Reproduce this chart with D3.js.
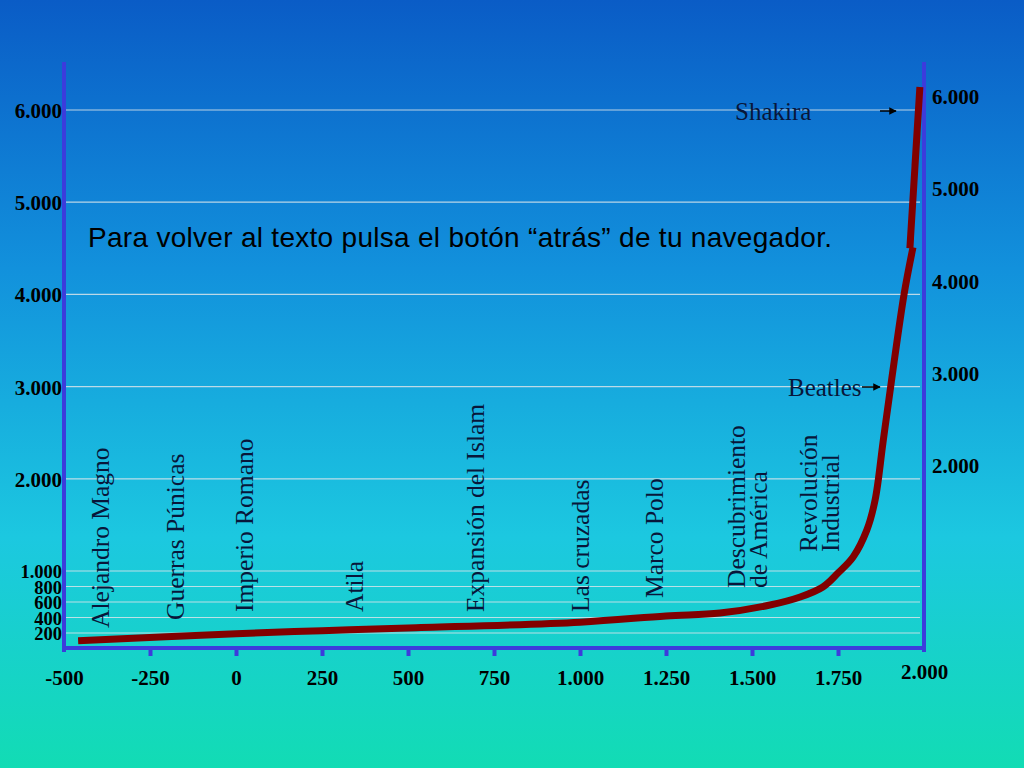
<!DOCTYPE html>
<html><head><meta charset="utf-8">
<script src="https://cdn.jsdelivr.net/npm/d3@7"></script>
<style>body{margin:0;}svg{display:block;}</style>
</head><body>
<script>
const years = [-459, 0, 250, 500, 1000, 1250, 1407, 1552, 1640, 1706, 1750, 1794, 1834, 1858, 1881, 1905, 1942, 1968];
const population = [100, 190, 230, 265, 340, 420, 458, 561, 665, 794, 974, 1152, 1446, 1772, 2400, 3050, 4000, 4510];
const jumpYears = [1959, 1988];
const jumpPopulation = [4500, 6250];
const leftTicks = [200, 400, 600, 800, 1000, 2000, 3000, 4000, 5000, 6000];
const rightTicks = [2000, 3000, 4000, 5000, 6000];
const xTicks = [-500, -250, 0, 250, 500, 750, 1000, 1250, 1500, 1750, 2000];
const events = [
  {lines:["Alejandro Magno"], year:-370, base:628},
  {lines:["Guerras Púnicas"], year:-150, base:620},
  {lines:["Imperio Romano"], year:50, base:612},
  {lines:["Atila"], year:370, base:612},
  {lines:["Expansión del Islam"], year:720, base:612},
  {lines:["Las cruzadas"], year:1025, base:612},
  {lines:["Marco Polo"], year:1240, base:598},
  {lines:["Descubrimiento","de América"], year:1480, base:588},
  {lines:["Revolución","Industrial"], year:1690, base:552}
];
const fmt = v => d3.format(",")(v).replace(/,/g, ".").replace("−","-");

const W=1024,H=768;
const svg=d3.select("body").append("svg").attr("width",W).attr("height",H);
const defs=svg.append("defs");
const g=defs.append("linearGradient").attr("id","bg").attr("x1",0).attr("y1",0).attr("x2",0).attr("y2",1);
[[0,"#0a5cc6"],[0.35,"#1291dc"],[0.7,"#1cc8e0"],[1,"#12dcb4"]].forEach(([o,c])=>g.append("stop").attr("offset",o).attr("stop-color",c));
svg.append("rect").attr("width",W).attr("height",H).attr("fill","url(#bg)");
const ar=defs.append("marker").attr("id","arr").attr("viewBox","0 0 10 10").attr("refX",9).attr("refY",5)
  .attr("markerWidth",5).attr("markerHeight",5).attr("orient","auto");
ar.append("path").attr("d","M0,0L10,5L0,10z").attr("fill","#000");

const x=d3.scaleLinear().domain([-500,2000]).range([64,924]);
const y=d3.scaleLinear().domain([0,1000,6000]).range([648.5,571,110]);
const yR=d3.scaleLinear().domain([2000,6000]).range([466,97]);

svg.append("g").selectAll("line").data(leftTicks).join("line")
  .attr("x1",64).attr("x2",920).attr("y1",d=>y(d)).attr("y2",d=>y(d))
  .attr("stroke","#d8e4ea").attr("stroke-opacity",0.85).attr("stroke-width",1.2);

const axisColor="#3c3cdc";
const tickFont = sel => sel.selectAll("text").attr("font-family","Liberation Serif").attr("font-weight","bold").attr("font-size",21).attr("fill","#000");
const la=svg.append("g").attr("transform","translate(64,0)")
  .call(d3.axisLeft(y).tickValues(leftTicks).tickFormat(fmt).tickSize(0).tickPadding(2));
la.select(".domain").remove();
la.append("line").attr("x1",0).attr("x2",0).attr("y1",62).attr("y2",652).attr("stroke",axisColor).attr("stroke-width",4);
tickFont(la);
la.selectAll(".tick text").attr("dy","0.36em");
la.selectAll(".tick").filter(d=>d<=1000).select("text").attr("font-size",18.5);

const ra=svg.append("g").attr("transform","translate(924,0)")
  .call(d3.axisRight(yR).tickValues(rightTicks).tickFormat(fmt).tickSize(0).tickPadding(8));
ra.select(".domain").remove();
ra.append("line").attr("x1",0).attr("x2",0).attr("y1",62).attr("y2",652).attr("stroke",axisColor).attr("stroke-width",4);
tickFont(ra);

const ba=svg.append("g").attr("transform","translate(0,648)")
  .call(d3.axisBottom(x).tickValues(xTicks).tickFormat(fmt).tickSize(8).tickPadding(14));
ba.select(".domain").attr("stroke",axisColor).attr("stroke-width",4).attr("d","M64,0H926");
ba.selectAll(".tick line").attr("stroke",axisColor).attr("stroke-width",4);
ba.selectAll(".tick").filter(d=>d===-500||d===2000).select("line").remove();
tickFont(ba);
ba.selectAll(".tick").filter(d=>d===2000).select("text").attr("dy","0.45em");

events.forEach(e=>{
  e.lines.forEach((t,i)=>{
    svg.append("text").attr("transform",`translate(${x(e.year)+i*22},${e.base}) rotate(-90)`)
      .attr("font-family","Liberation Serif").attr("font-size",25.5).attr("fill","#08163a").text(t);
  });
});

const line=d3.line().x(d=>x(d[0])).y(d=>y(d[1])).curve(d3.curveCatmullRom.alpha(0.5));
svg.append("path").datum(years.map((v,i)=>[v,population[i]])).attr("d",line)
  .attr("fill","none").attr("stroke","#820000").attr("stroke-width",7);
svg.append("path").datum(jumpYears.map((v,i)=>[v,jumpPopulation[i]])).attr("d",d3.line().x(d=>x(d[0])).y(d=>y(d[1])))
  .attr("fill","none").attr("stroke","#820000").attr("stroke-width",7);

svg.append("text").attr("x",88).attr("y",247).attr("font-family","Liberation Sans").attr("font-size",28).attr("textLength",744).attr("fill","#000")
  .text("Para volver al texto pulsa el botón “atrás” de tu navegador.");
svg.append("text").attr("x",735).attr("y",120).attr("font-family","Liberation Serif").attr("font-size",25).attr("fill","#08163a").text("Shakira");
svg.append("line").attr("x1",880).attr("x2",896).attr("y1",111).attr("y2",111).attr("stroke","#000").attr("stroke-width",1.5).attr("marker-end","url(#arr)");
svg.append("text").attr("x",788).attr("y",396).attr("font-family","Liberation Serif").attr("font-size",25).attr("fill","#08163a").text("Beatles");
svg.append("line").attr("x1",862).attr("x2",880).attr("y1",387).attr("y2",387).attr("stroke","#000").attr("stroke-width",1.5).attr("marker-end","url(#arr)");
</script>
</body></html>
